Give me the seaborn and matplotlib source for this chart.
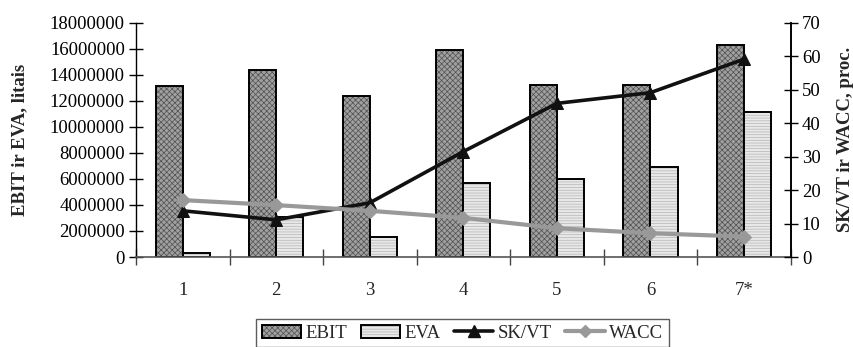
import numpy as np
import pandas as pd
import matplotlib
matplotlib.use("Agg")
import matplotlib.pyplot as plt
import matplotlib.colors as mcolors
import seaborn as sns
from matplotlib.ticker import MultipleLocator, FixedLocator
from matplotlib.patches import Patch
from matplotlib.lines import Line2D

categories = ["1", "2", "3", "4", "5", "6", "7*"]
ebit = [13100000, 14400000, 12350000, 15900000, 13200000, 13200000, 16250000]
eva = [300000, 3100000, 1500000, 5650000, 6000000, 6950000, 11170000]
skvt = [13.8, 11.1, 16.2, 31.5, 45.9, 49.1, 59.1]
wacc = [17.0, 15.5, 13.8, 11.7, 8.6, 7.1, 6.1]

sns.set_theme(style="white")
plt.rcParams['font.family'] = ['Liberation Serif', 'DejaVu Serif']
plt.rcParams['hatch.linewidth'] = 0.5

fs = 13.5
fig = plt.figure(figsize=(8.54, 3.47), dpi=100)
ax = fig.add_axes([136/854, 1-257/347, (790.7-136)/854, (257-22.7)/347])

df = pd.DataFrame({
    "cat": categories * 2,
    "val": ebit + eva,
    "series": ["EBIT"] * len(categories) + ["EVA"] * len(categories),
})
sns.barplot(data=df, x="cat", y="val", hue="series", order=categories,
            hue_order=["EBIT", "EVA"], palette=["#a0a0a0", "#e8e8e8"],
            width=0.58, gap=0, edgecolor="black", linewidth=1.4,
            saturation=1, legend=False, ax=ax)

n = len(categories)
styles = {"EBIT": ("xxxxxx", "#505050"), "EVA": ("------", "#b4b4b4")}


def style_patch(p, key):
    h, hc = styles[key]
    p.set_hatch(h)
    p.set_edgecolor("black")
    p._hatch_color = mcolors.to_rgba(hc)
    p.stale = True


for i, p in enumerate(ax.patches[:2 * n]):
    style_patch(p, "EBIT" if i < n else "EVA")

ax.set_ylim(0, 18000000)
ax.set_xlim(-0.5, n - 0.5)
ax.yaxis.set_major_locator(MultipleLocator(2000000))
ax.yaxis.set_major_formatter(matplotlib.ticker.FuncFormatter(lambda v, p: f"{int(v)}"))
ax.set_xlabel("")
ax.set_ylabel("EBIT ir EVA, litais", fontsize=fs, fontweight="bold")
ax.yaxis.set_label_coords(-0.165, 0.5)
ax.tick_params(axis="y", direction="inout", length=10, width=1, colors="black",
               labelsize=fs, pad=3, left=True)
ax.xaxis.set_minor_locator(FixedLocator(np.arange(-0.5, n, 1.0)))
ax.tick_params(axis="x", which="major", length=0, labelsize=fs, pad=18)
ax.tick_params(axis="x", which="minor", direction="inout", length=12, width=1,
               color="#444444", bottom=True)
ax.spines["top"].set_visible(False)
ax.spines["left"].set_color("black")
ax.spines["bottom"].set_color("#555555")
ax.spines["left"].set_linewidth(1)
ax.spines["bottom"].set_linewidth(1.2)

ax2 = ax.twinx()
pos = np.arange(n)
sns.lineplot(x=pos, y=skvt, marker="^", color="#111111", markersize=9,
             markeredgecolor="#111111", linewidth=2.6, ax=ax2, label="SK/VT")
sns.lineplot(x=pos, y=wacc, marker="D", color="#999999", markersize=7,
             markeredgecolor="#999999", linewidth=3, ax=ax2, label="WACC")
ax2.set_ylim(0, 70)
ax2.yaxis.set_major_locator(MultipleLocator(10))
ax2.set_ylabel("SK/VT ir WACC, proc.", fontsize=fs, fontweight="bold")
ax2.yaxis.set_label_coords(1.071, 0.5)
ax2.tick_params(axis="y", direction="inout", length=10, width=1, colors="black",
                labelsize=fs, pad=3, right=True)
ax2.spines["top"].set_visible(False)
ax2.spines["left"].set_visible(False)
ax2.spines["bottom"].set_visible(False)
ax2.spines["right"].set_color("black")
ax2.get_legend().remove()

handles = []
for key, col in [("EBIT", "#a0a0a0"), ("EVA", "#e8e8e8")]:
    ph = Patch(facecolor=col, edgecolor="black", linewidth=1.4, label=key)
    style_patch(ph, key)
    handles.append(ph)
handles.append(Line2D([], [], color="#111111", marker="^", markersize=9, linewidth=2.6, label="SK/VT"))
handles.append(Line2D([], [], color="#999999", marker="D", markersize=6, linewidth=3, label="WACC"))
leg = fig.legend(handles=handles, loc="upper center", bbox_to_anchor=(462.5/854, 1-319/347),
                 ncol=4, frameon=True, fancybox=False, fontsize=fs, handlelength=2.1,
                 handletextpad=0.25, columnspacing=0.7, borderpad=0.3, borderaxespad=0)
leg.get_frame().set_edgecolor("#333333")
leg.get_frame().set_linewidth(1)

fig.savefig("out.png", dpi=100)
